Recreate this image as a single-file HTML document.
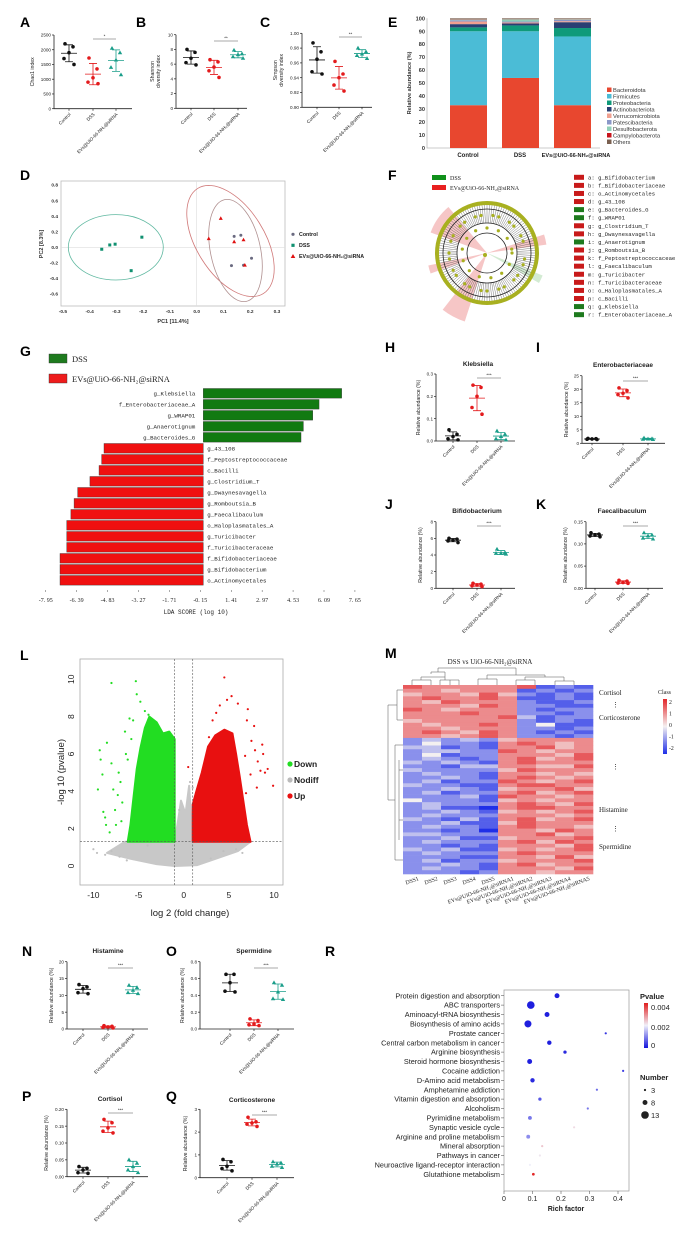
<!DOCTYPE html>
<html><head><meta charset="utf-8"><style>
html,body{margin:0;padding:0;background:#fff;}
svg{display:block;font-family:"Liberation Sans",sans-serif;}
.pl{font-weight:bold;font-size:14px;}
.mono{font-family:"Liberation Mono",monospace;}
.serif{font-family:"Liberation Serif",serif;}
</style></head><body>
<svg id="fig" width="700" height="1233" viewBox="0 0 700 1233" xmlns="http://www.w3.org/2000/svg">
<text class="pl" x="20" y="27">A</text>
<text class="pl" x="136" y="27">B</text>
<text class="pl" x="260" y="27">C</text>
<text class="pl" x="388" y="27">E</text>
<text class="pl" x="20" y="180">D</text>
<text class="pl" x="388" y="180">F</text>
<text class="pl" x="20" y="356">G</text>
<text class="pl" x="385" y="352">H</text>
<text class="pl" x="536" y="352">I</text>
<text class="pl" x="385" y="509">J</text>
<text class="pl" x="536" y="509">K</text>
<text class="pl" x="20" y="660">L</text>
<text class="pl" x="385" y="658">M</text>
<text class="pl" x="22" y="956">N</text>
<text class="pl" x="166" y="956">O</text>
<text class="pl" x="22" y="1101">P</text>
<text class="pl" x="166" y="1101">Q</text>
<text class="pl" x="325" y="956">R</text>
</svg>
<script>
// ===== DATA =====
const groups = ["Control","DSS","EVs@UiO-66-NH\u2082@siRNA"];
const chaoC=[2200,2100,1900,1700,1500], chaoD=[1720,1350,1050,900,850], chaoE=[2050,1900,1650,1400,1150];
const shanC=[8.0,7.6,6.8,6.2,5.9], shanD=[6.6,6.3,5.6,5.1,4.2], shanE=[7.9,7.4,7.3,7.0,6.8];
const simpC=[0.987,0.975,0.965,0.948,0.945], simpD=[0.962,0.945,0.94,0.93,0.922], simpE=[0.98,0.975,0.972,0.97,0.966];
const klebC=[0.05,0.03,0.02,0.01,0.005], klebD=[0.25,0.24,0.2,0.15,0.12], klebE=[0.045,0.03,0.02,0.01,0.005];
const enteC=[1.8,1.7,1.6,1.5,1.4], enteD=[20.5,19.5,18.5,18,16.8], enteE=[2.0,1.7,1.6,1.5,1.4];
const bifiC=[6.0,5.9,5.8,5.7,5.5], bifiD=[0.6,0.5,0.4,0.3,0.2], bifiE=[4.7,4.3,4.2,4.2,4.1];
const faecC=[0.125,0.122,0.12,0.118,0.116], faecD=[0.018,0.016,0.013,0.012,0.011], faecE=[0.125,0.12,0.118,0.113,0.111];
const histC=[13.2,12.5,12,10.8,10.5], histD=[1.0,0.8,0.6,0.5,0.3], histE=[13,12.3,11.5,10.8,10.5];
const sperC=[0.65,0.65,0.55,0.45,0.44], sperD=[0.12,0.1,0.06,0.05,0.04], sperE=[0.55,0.52,0.44,0.36,0.35];
const cortC=[0.03,0.025,0.02,0.012,0.01], cortD=[0.17,0.16,0.145,0.135,0.13], cortE=[0.05,0.04,0.03,0.02,0.012];
const cosC=[0.8,0.7,0.5,0.4,0.3], cosD=[2.65,2.45,2.4,2.35,2.25], cosE=[0.7,0.65,0.6,0.5,0.45];

const phyla=["Bacteroidota","Firmicutes","Proteobacteria","Actinobacteriota","Verrucomicrobiota","Patescibacteria","Desulfobacterota","Campylobacterota","Others"];
const stackControl=[33,57,3,2.5,2,1,0.7,0.3,0.5];
const stackDSS=[54,36,4.5,1.5,0.8,0.7,1.8,0.2,0.5];
const stackEVs=[33,53,6.5,4.5,0.8,1,0.5,0.2,0.5];
const stackTicks=[0,10,20,30,40,50,60,70,80,90,100];

const pcaCtrlX=[0.14,0.165,0.205,0.13,0.175], pcaCtrlY=[0.14,0.155,-0.14,-0.235,-0.23];
const pcaDssX=[-0.355,-0.325,-0.305,-0.205,-0.245], pcaDssY=[-0.025,0.03,0.04,0.13,-0.3];
const pcaEvX=[0.09,0.045,0.14,0.175,0.18], pcaEvY=[0.37,0.11,0.07,0.095,-0.23];
const pcaXTicks=[-0.5,-0.4,-0.3,-0.2,-0.1,0.0,0.1,0.2,0.3];
const pcaYTicks=[0.8,0.6,0.4,0.2,0.0,-0.2,-0.4,-0.6];

const ldaNames=["g_Klebsiella","f_Enterobacteriaceae_A","g_WRAP01","g_Anaerotignum","g_Bacteroides_G","g_43_108","f_Peptostreptococcaceae","c_Bacilli","g_Clostridium_T","g_Dwaynesavagella","g_Romboutsia_B","g_Faecalibaculum","o_Haloplasmatales_A","g_Turicibacter","f_Turicibacteraceae","f_Bifidobacteriaceae","g_Bifidobacterium","o_Actinomycetales"];
const ldaScores=[6.98,5.84,5.52,5.05,4.93,-5.01,-5.13,-5.26,-5.72,-6.34,-6.52,-6.68,-6.89,-6.89,-6.89,-7.23,-7.23,-7.23];
const ldaTicks=[-7.95,-6.39,-4.83,-3.27,-1.71,-0.15,1.41,2.97,4.53,6.09,7.65];

const cladeLetters=["a","b","c","d","e","f","g","h","i","j","k","l","m","n","o","p","q","r"];
const cladeNames=["g_Bifidobacterium","f_Bifidobacteriaceae","o_Actinomycetales","g_43_108","g_Bacteroides_G","g_WRAP01","g_Clostridium_T","g_Dwaynesavagella","g_Anaerotignum","g_Romboutsia_B","f_Peptostreptococcaceae","g_Faecalibaculum","g_Turicibacter","f_Turicibacteraceae","o_Haloplasmatales_A","c_Bacilli","g_Klebsiella","f_Enterobacteriaceae_A"];
const cladeGroup=["E","E","E","E","D","D","E","E","D","E","E","E","E","E","E","E","D","D"];

const volGreenX=[-8,-5.3,-5.2,-4.8,-4.3,-3.9,-6,-6.5,-8.5,-9.3,-9.2,-9.5,-8.9,-8.7,-7.8,-7.2,-7,-6.8,-7.5,-8.2,-6.2,-5.8,-9,-8,-7.6,-6.9,-5.6,-6.4,-7.3,-8.6];
const volGreenY=[9.8,9.9,9.2,8.8,8.3,8.1,7.9,7.2,6.6,6.2,5.7,4.1,2.9,2.6,4.1,5,4.5,3.4,2.2,1.8,5.7,6.8,4.9,5.5,3,2.4,7.8,6,3.8,2.2];
const volRedX=[4.5,5.3,4.8,6,7.1,7,7.8,8.7,9.3,9.9,8.1,8.2,7.5,6.8,6.6,5.8,4,3.6,3.2,7.4,6.2,5.1,8.5,9,6.5,2.8,7.9,8.8,0.5,6.9];
const volRedY=[10.1,9.1,8.9,8.7,8.4,7.8,7.5,6.5,5.2,4.3,4.2,5.6,6.7,5.9,3.4,2.9,8.6,8.2,7.8,4.9,1.7,1.8,5.1,5,2.7,6.9,6.2,6,5.3,3.9];
const volGreyX=[-10,-9.6,-8.7,-8,-7.1,-6.3,6.5,5.8,4.4,-4,3,0.7,1,-0.5];
const volGreyY=[0.9,0.7,0.6,0.8,0.5,0.3,0.7,0.9,0.8,1.1,0.4,4.5,4.2,3.0];
const volGreenCore=[[-1,1.3],[-1,6.8],[-1.6,7.2],[-2.3,7.1],[-3,7.7],[-3.8,8.0],[-4.3,7.4],[-4.8,6.3],[-5.2,5.2],[-5.6,3.5],[-5.9,2.2],[-6.2,1.3]];
const volRedCore=[[1,1.3],[1,3.3],[1.4,4.0],[2,5.0],[2.7,6.4],[3.5,7.0],[4.5,7.3],[5.4,7.1],[5.8,6.0],[6.2,4.8],[6.6,3.5],[7.0,2.2],[7.4,1.3]];
const volGreyCore=[[-6.5,1.3],[-1,1.3],[-0.6,2.5],[-0.3,3.5],[0.2,2.8],[0.6,4.3],[1,1.3],[7.4,1.3],[6,0.8],[3,0.3],[1.5,0.05],[-1,0],[-3,0.1],[-6,0.4],[-8.5,0.7]];
const volXTicks=[-10,-5,0,5,10];
const volYTicks=[0,2,4,6,8,10];

const heatCols=["DSS1","DSS2","DSS3","DSS4","DSS5","EVs@UiO-66-NH\u2082@siRNA1","EVs@UiO-66-NH\u2082@siRNA2","EVs@UiO-66-NH\u2082@siRNA3","EVs@UiO-66-NH\u2082@siRNA4","EVs@UiO-66-NH\u2082@siRNA5"];
const heatRows=["7666667121","6656661212","5665752121","6766761121","6576662112","6665762211","7656662122","6667662212","6666673122","5666662121","6566762411","6656662212","6765762121","6656762212",
"2323256666","2422167656","3312166756","2332276566","2412266657","2321267567","3232167666","2213366557","3222257666","2322166565","2232167656","2312276567","3221167766","2232156675","2312267567","2223176656","4222156566","2322267657","2311067766","2232156567","2322266656","3213167567","2231157666","2322167665","2212066576","3322266756","2231156667","2322267576","2212166657","3231156567","2322267666","2221166575","2312256667","2232167566","2322166657","2221266566"];

const keggNames=["Protein digestion and absorption","ABC transporters","Aminoacyl-tRNA biosynthesis","Biosynthesis of amino acids","Prostate cancer","Central carbon metabolism in cancer","Arginine biosynthesis","Steroid hormone biosynthesis","Cocaine addiction","D-Amino acid metabolism","Amphetamine addiction","Vitamin digestion and absorption","Alcoholism","Pyrimidine metabolism","Synaptic vesicle cycle","Arginine and proline metabolism","Mineral absorption","Pathways in cancer","Neuroactive ligand-receptor interaction","Glutathione metabolism"];
const keggRich=[0.186,0.094,0.151,0.084,0.357,0.159,0.214,0.09,0.418,0.1,0.326,0.126,0.294,0.091,0.246,0.085,0.134,0.126,0.091,0.103];
const keggNumber=[8,13,8,12,3,7,5,8,3,7,3,5,3,6,3,6,3,3,3,4];
const keggP=[0.0001,0.0001,0.0001,0.0001,0.0003,0.0001,0.0002,0.0001,0.0004,0.0002,0.0008,0.0006,0.0009,0.0009,0.0022,0.0011,0.0024,0.0021,0.002,0.0039];
const keggTicks=[0,0.1,0.2,0.3,0.4];

// ===== HELPERS =====
const NS="http://www.w3.org/2000/svg";
const svg=document.getElementById('fig');
function mk(tag,a,parent){const e=document.createElementNS(NS,tag);for(const k in a)e.setAttribute(k,a[k]);(parent||svg).appendChild(e);return e;}
function tx(x,y,s,a,parent){const e=mk('text',Object.assign({x:x,y:y},a||{}),parent);e.textContent=s;return e;}
function grp(name){const g=mk('g',{});return g;}
function mean(a){return a.reduce((s,v)=>s+v,0)/a.length;}
function sd(a){const m=mean(a);return Math.sqrt(a.reduce((s,v)=>s+(v-m)*(v-m),0)/(a.length-1));}
const GC=["#111","#e31a1c","#1a9e8a"];
const offs=[-4,4,0,-5,5];

function dotPanel(p){
  const g=grp(p.name);
  const ys=v=>p.yB-(v-p.vB)/(p.vT-p.vB)*(p.yB-p.yT);
  const ax=mk('path',{d:`M${p.x0},${p.yT} L${p.x0},${p.yB} L${p.x1},${p.yB}`,stroke:'#222','stroke-width':0.8,fill:'none'},g);
  
  
  p.ticks.forEach(t=>{
    const y=ys(t);
    const l=mk('line',{x1:p.x0-2,x2:p.x0,y1:y,y2:y,stroke:'#222','stroke-width':0.7},g);
    
    
    const lb=tx(p.x0-3,y+1.6,p.fmt(t),{'font-size':4.6,'text-anchor':'end',fill:'#222'},g);
    
    
  });
  const yl=tx(0,0,p.ylab,{'font-size':5.2,'text-anchor':'middle',fill:'#222',transform:`translate(${p.x0-p.ylOff},${(p.yT+p.yB)/2}) rotate(-90)`},g);
  
  
  if(p.ylab2){const y2=tx(0,0,p.ylab2,{'font-size':5.2,'text-anchor':'middle',fill:'#222',transform:`translate(${p.x0-p.ylOff+6},${(p.yT+p.yB)/2}) rotate(-90)`},g);
    
    }
  if(p.title){const t=tx(p.tx,p.ty,p.title,{'font-size':6.5,'font-weight':'bold','text-anchor':'middle',fill:'#222'},g);
    
    }
  p.data.forEach((arr,gi)=>{
    const cx=p.cats[gi];
    const tk=mk('line',{x1:cx,x2:cx,y1:p.yB,y2:p.yB+2,stroke:'#222','stroke-width':0.7},g);
    
    
    const cl=tx(0,0,groups[gi],{'font-size':4.6,'text-anchor':'end',fill:'#222',transform:`translate(${cx+2},${p.yB+6}) rotate(-45)`},g);
    
    
    const m=mean(arr),s=sd(arr);
    const eb=mk('path',{d:`M${cx-8},${ys(m)} L${cx+8},${ys(m)} M${cx},${ys(m+s)} L${cx},${ys(m-s)} M${cx-4},${ys(m+s)} L${cx+4},${ys(m+s)} M${cx-4},${ys(m-s)} L${cx+4},${ys(m-s)}`,stroke:GC[gi],'stroke-width':0.8,fill:'none'},g);
    
    
    arr.forEach((v,i)=>{
      const x=cx+offs[i],y=ys(v);let e;
      if(gi==2){e=mk('path',{d:`M${x},${y-2.3} L${x+2.2},${y+1.5} L${x-2.2},${y+1.5}Z`,fill:GC[gi]},g);}
      else{e=mk('circle',{cx:x,cy:y,r:1.8,fill:GC[gi]},g);}
      
      
    });
  });
  const sy=p.sigY;
  const sl=mk('line',{x1:p.cats[1],x2:p.cats[2],y1:sy,y2:sy,stroke:'#555','stroke-width':0.6},g);
  
  
  const st=tx((p.cats[1]+p.cats[2])/2,sy-1.5,p.stars,{'font-size':4.5,'text-anchor':'middle',fill:'#333'},g);
  
  
}
const f0=v=>String(v), f2=v=>v.toFixed(2), f1=v=>v.toFixed(1);
dotPanel({name:'chao1-panel',x0:54,x1:132,yT:35,yB:108.7,vT:2500,vB:0,ticks:[0,500,1000,1500,2000,2500],fmt:f0,cats:[69,93,116],data:[chaoC,chaoD,chaoE],ylab:'Chao1 index',ylOff:20,sigY:39,stars:'*'});
dotPanel({name:'shannon-panel',x0:176,x1:247,yT:34.7,yB:108.3,vT:10,vB:0,ticks:[0,2,4,6,8,10],fmt:f0,cats:[191,214,238],data:[shanC,shanD,shanE],ylab:'Shannon',ylab2:'diversity index',ylOff:22,sigY:41,stars:'**'});
dotPanel({name:'simpson-panel',x0:302,x1:372,yT:33.3,yB:107.3,vT:1.0,vB:0.9,ticks:[0.9,0.92,0.94,0.96,0.98,1.0],fmt:f2,cats:[317,339,362],data:[simpC,simpD,simpE],ylab:'Simpson',ylab2:'diversity index',ylOff:25,sigY:37,stars:'**'});
dotPanel({name:'klebsiella-panel',x0:436,x1:515,yT:374,yB:441,vT:0.3,vB:0,ticks:[0,0.1,0.2,0.3],fmt:f1,cats:[453,477,501],data:[klebC,klebD,klebE],ylab:'Relative abundance (%)',ylOff:16,title:'Klebsiella',tx:478,ty:366,sigY:378,stars:'***'});
dotPanel({name:'enterobacteriaceae-panel',x0:582,x1:665,yT:375.7,yB:443.3,vT:25,vB:0,ticks:[0,5,10,15,20,25],fmt:f0,cats:[592,623,648],data:[enteC,enteD,enteE],ylab:'Relative abundance (%)',ylOff:14,title:'Enterobacteriaceae',tx:623,ty:367,sigY:381,stars:'***'});
dotPanel({name:'bifidobacterium-panel',x0:436,x1:515,yT:521.7,yB:588.3,vT:8,vB:0,ticks:[0,2,4,6,8],fmt:f0,cats:[453,477,501],data:[bifiC,bifiD,bifiE],ylab:'Relative abundance (%)',ylOff:14,title:'Bifidobacterium',tx:477,ty:513,sigY:526,stars:'***'});
dotPanel({name:'faecalibaculum-panel',x0:586,x1:663,yT:521.7,yB:588.3,vT:0.15,vB:0,ticks:[0,0.05,0.1,0.15],fmt:f2,cats:[595,623,648],data:[faecC,faecD,faecE],ylab:'Relative abundance (%)',ylOff:19,title:'Faecalibaculum',tx:622,ty:513,sigY:526,stars:'***'});
dotPanel({name:'histamine-panel',x0:67,x1:148,yT:961.7,yB:1029,vT:20,vB:0,ticks:[0,5,10,15,20],fmt:f0,cats:[83,108,133],data:[histC,histD,histE],ylab:'Relative abundance (%)',ylOff:14,title:'Histamine',tx:108,ty:953,sigY:968,stars:'***'});
dotPanel({name:'spermidine-panel',x0:200,x1:294,yT:961.7,yB:1029,vT:0.8,vB:0,ticks:[0,0.2,0.4,0.6,0.8],fmt:f1,cats:[230,254,278],data:[sperC,sperD,sperE],ylab:'Relative abundance (%)',ylOff:16,title:'Spermidine',tx:254,ty:953,sigY:968,stars:'***'});
dotPanel({name:'cortisol-panel',x0:67,x1:148,yT:1109.3,yB:1176.7,vT:0.2,vB:0,ticks:[0,0.05,0.1,0.15,0.2],fmt:f2,cats:[83,108,133],data:[cortC,cortD,cortE],ylab:'Relative abundance (%)',ylOff:19,title:'Cortisol',tx:110,ty:1101,sigY:1113,stars:'***'});
dotPanel({name:'corticosterone-panel',x0:200,x1:294,yT:1109.3,yB:1177.7,vT:3,vB:0,ticks:[0,1,2,3],fmt:f0,cats:[227,252,277],data:[cosC,cosD,cosE],ylab:'Relative abundance (%)',ylOff:13,title:'Corticosterone',tx:252,ty:1102,sigY:1115,stars:'***'});

// ===== E stacked bar =====
(function(){
  const g=grp('stacked-bar-chart');
  const colors=["#e8472f","#4bbcd6","#0f9a7a","#2a3f73","#f0a090","#8a97c8","#90d0b8","#c8141c","#7a6050"];
  const x0=427,yT=18.3,yB=148;
  const ys=v=>yB-v/100*(yB-yT);
  const a=mk('path',{d:`M${x0},${yT} L${x0},${yB} L600,${yB}`,stroke:'#bbb','stroke-width':0.8,fill:'none'},g);
  
  
  stackTicks.forEach(t=>{
    const l=tx(x0-2,ys(t)+2,String(t),{'font-size':5.6,'font-weight':'bold','text-anchor':'end',fill:'#333'},g);
    
    
  });
  const yl=tx(0,0,'Relative abundance (%)',{'font-size':5.6,'font-weight':'bold','text-anchor':'middle',fill:'#333',transform:`translate(411,83) rotate(-90)`},g);
  
  
  const stacks=[stackControl,stackDSS,stackEVs];const bx=[450,502,554];const lbx=[468,520,576];
  stacks.forEach((st,bi)=>{
    let acc=0;
    st.forEach((v,ci)=>{
      const r=mk('rect',{x:bx[bi],y:ys(acc+v),width:37,height:ys(acc)-ys(acc+v),fill:colors[ci]},g);
      
      
      acc+=v;
    });
    const l=tx(lbx[bi],157,groups[bi],{'font-size':bi==2?5.6:6,'font-weight':'bold','text-anchor':'middle',fill:'#222'},g);
    
    
  });
  phyla.forEach((n,i)=>{
    const y=90+i*6.5;
    const s=mk('rect',{x:607,y:y-2.5,width:4.5,height:4.5,fill:colors[i]},g);
    
    
    const t=tx(613,y+2,n,{'font-size':5.8,fill:'#333'},g);
    
    
  });
})();

// ===== D PCA =====
(function(){
  const g=grp('pca-plot');
  const xs=v=>196.7+v*267.5, ys=v=>247.3-v*77.9;
  const b=mk('rect',{x:61,y:181,width:224,height:125,fill:'none',stroke:'#bbb','stroke-width':0.8},g);
  
  
  const h=mk('path',{d:`M61,${ys(0)} L285,${ys(0)} M${xs(0)},181 L${xs(0)},306`,stroke:'#ddd','stroke-width':0.6},g);
  
  
  pcaXTicks.forEach(t=>{const l=tx(xs(t),313,t.toFixed(1),{'font-size':4.8,'font-weight':'bold','text-anchor':'middle',fill:'#333'},g);
    
    });
  pcaYTicks.forEach(t=>{const l=tx(58,ys(t)+1.7,t.toFixed(1),{'font-size':4.8,'font-weight':'bold','text-anchor':'end',fill:'#333'},g);
    
    });
  const xl=tx(173,323,'PC1 [11.4%]',{'font-size':5.5,'font-weight':'bold','text-anchor':'middle',fill:'#333'},g);
  
  
  const yl=tx(0,0,'PC2 [8.3%]',{'font-size':5.5,'font-weight':'bold','text-anchor':'middle',fill:'#333',transform:'translate(43,244) rotate(-90)'},g);
  
  
  const e1=mk('ellipse',{cx:115.8,cy:247.3,rx:47.5,ry:32.7,fill:'none',stroke:'#5fb8a0','stroke-width':0.8},g);
  
  
  const e2=mk('ellipse',{cx:230.5,cy:241,rx:62,ry:34,fill:'none',stroke:'#d07878','stroke-width':0.8,transform:'rotate(58 230.5 241)'},g);
  
  
  const e3=mk('ellipse',{cx:235.5,cy:250.5,rx:52,ry:25,fill:'none',stroke:'#b09090','stroke-width':0.8,transform:'rotate(78 235.5 250.5)'},g);
  
  
  pcaCtrlX.forEach((v,i)=>{const c=mk('circle',{cx:xs(v),cy:ys(pcaCtrlY[i]),r:1.5,fill:'#6a6a80'},g);
    
    });
  pcaDssX.forEach((v,i)=>{const c=mk('rect',{x:xs(v)-1.5,y:ys(pcaDssY[i])-1.5,width:3,height:3,fill:'#109070'},g);
    
    });
  pcaEvX.forEach((v,i)=>{const x=xs(v),y=ys(pcaEvY[i]);const c=mk('path',{d:`M${x},${y-2.2} L${x+2},${y+1.4} L${x-2},${y+1.4}Z`,fill:'#e01010'},g);
    
    });
  const lg=[['Control','#6a6a80','c'],['DSS','#109070','s'],['EVs@UiO-66-NH\u2082@siRNA','#e01010','t']];
  lg.forEach((l,i)=>{const y=236+i*11;let m;
    if(l[2]=='c')m=mk('circle',{cx:293,cy:y-1.7,r:1.6,fill:l[1]},g);
    else if(l[2]=='s')m=mk('rect',{x:291.4,y:y-3.3,width:3.2,height:3.2,fill:l[1]},g);
    else m=mk('path',{d:`M293,${y-4} L295.3,${y} L290.7,${y}Z`,fill:l[1]},g);
    
    
    const t=tx(299,y,l[0],{'font-size':5.3,'font-weight':'bold',fill:'#222'},g);
    
    });
})();

// ===== F cladogram =====
(function(){
  const g=grp('cladogram');
  const cx=487,cy=253;
  const wedges=[[200,230,'#f4b8b8'],[108,128,'#f4b8b8'],[-18,-8,'#f4b8b8'],[22,30,'#c8e6c8'],[160,168,'#f4b8b8']];
  wedges.forEach(w=>{const a1=w[0]*Math.PI/180,a2=w[1]*Math.PI/180,R=(w[0]>100&&w[0]<140)?72:60;
    const p=mk('path',{d:`M${cx},${cy} L${cx+R*Math.cos(a1)},${cy+R*Math.sin(a1)} A${R},${R} 0 0 1 ${cx+R*Math.cos(a2)},${cy+R*Math.sin(a2)} Z`,fill:w[2],opacity:0.8},g);
    
    });
  for(let i=0;i<120;i++){const a=i/120*2*Math.PI;
    const l=mk('line',{x1:cx+30*Math.cos(a),y1:cy+30*Math.sin(a),x2:cx+50*Math.cos(a),y2:cy+50*Math.sin(a),stroke:'#444','stroke-width':0.35},g);
    
    }
  [50,44,30,20].forEach((r,i)=>{const c=mk('circle',{cx:cx,cy:cy,r:r,fill:'none',stroke:i==0?'#a8b020':'#222','stroke-width':i==0?4:0.8},g);
    
    });
  for(let i=0;i<40;i++){const a=i/40*2*Math.PI,r=(i%3==0)?25:38;
    const d=mk('circle',{cx:cx+r*Math.cos(a),cy:cy+r*Math.sin(a),r:1.6,fill:'#a8b020'},g);
    
    }
  const c0=mk('circle',{cx:cx-2,cy:cy+2,r:2,fill:'#a8b020'},g);
  
  
  [[432,178,'#10901a','DSS'],[432,188,'#e82020','EVs@UiO-66-NH\u2082@siRNA']].forEach(l=>{
    const r=mk('rect',{x:l[0],y:l[1]-3,width:14,height:5,fill:l[2]},g);
    
    
    const t=tx(450,l[1]+2,l[3],{'font-size':6,fill:'#222',class:'serif'},g);
    
    });
  cladeLetters.forEach((L,i)=>{const y=177.3+i*8.08;
    const r=mk('rect',{x:574,y:y-2.5,width:10,height:5,fill:cladeGroup[i]=='D'?'#1e7a1e':'#c81a1a'},g);
    
    
    const t=tx(588,y+2,L+': '+cladeNames[i],{'font-size':5.6,fill:'#222',class:'mono'},g);
    
    });
})();

// ===== G LDA =====
(function(){
  const g=grp('lda-bar-chart');
  const xs=v=>203.3+v*19.82;
  [[354,'#1e7a1e','DSS'],[374,'#ee1c1c','EVs@UiO-66-NH\u2082@siRNA']].forEach(l=>{
    const r=mk('rect',{x:49,y:l[0],width:18,height:9,fill:l[1],stroke:'#333','stroke-width':0.4},g);
    
    
    const t=tx(72,l[0]+8,l[2],{'font-size':8.5,fill:'#222',class:'serif'},g);
    
    });
  ldaScores.forEach((v,i)=>{
    const y=393.3+i*11;const pos=v>0;
    const r=mk('rect',{x:pos?xs(0):xs(v),y:y-4.8,width:Math.abs(xs(v)-xs(0)),height:9.6,fill:pos?'#117a11':'#f01010',stroke:'#333','stroke-width':0.4},g);
    
    
    const t=tx(pos?xs(0)-8:xs(0)+4,y+2,ldaNames[i],{'font-size':5.8,'text-anchor':pos?'end':'start',fill:'#222',class:'mono'},g);
    
    
  });
  ldaTicks.forEach(t=>{
    const l=mk('line',{x1:xs(t),x2:xs(t),y1:590,y2:592,stroke:'#555','stroke-width':0.5},g);
    
    
    const lb=tx(xs(t),602,t.toFixed(2).replace('.','. '),{'font-size':6,'text-anchor':'middle',fill:'#222',class:'serif'},g);
    
    });
  const xl=tx(196,614,'LDA SCORE (log 10)',{'font-size':6,'text-anchor':'middle',fill:'#222',class:'mono'},g);
  
  
})();

// ===== L volcano =====
(function(){
  const g=grp('volcano-plot');
  const xs=v=>183.7+v*9.03, ys=v=>866-v*18.67;
  const fr=mk('rect',{x:80,y:659,width:203,height:226,fill:'#fff',stroke:'#aaa','stroke-width':0.8},g);
  
  
  function poly(pts,col,name){const p=mk('polygon',{points:pts.map(q=>xs(q[0])+','+ys(q[1])).join(' '),fill:col,stroke:col,'stroke-width':2,'stroke-linejoin':'round'},g);
    
    }
  poly(volGreyCore,'#c8c8c8','nodiff-density');
  poly(volGreenCore,'#22dd22','down-density');
  poly(volRedCore,'#e81010','up-density');
  function pts(X,Y,col,name){X.forEach((v,i)=>{const c=mk('circle',{cx:xs(v),cy:ys(Y[i]),r:1.1,fill:col},g);
    
    });}
  pts(volGreyX,volGreyY,'#c0c0c0','nodiff-point');
  pts(volGreenX,volGreenY,'#22dd22','down-point');
  pts(volRedX,volRedY,'#e81010','up-point');
  const dl=mk('path',{d:`M${xs(-1)},659 L${xs(-1)},885 M${xs(1)},659 L${xs(1)},885 M80,${ys(1.3)} L283,${ys(1.3)}`,stroke:'#555','stroke-width':0.6,'stroke-dasharray':'2,1.5',fill:'none'},g);
  
  
  volXTicks.forEach(t=>{const l=tx(xs(t),898,String(t),{'font-size':8.5,'text-anchor':'middle',fill:'#222'},g);
    
    });
  volYTicks.forEach(t=>{const l=tx(0,0,String(t),{'font-size':8.5,'text-anchor':'middle',fill:'#222',transform:`translate(74,${ys(t)}) rotate(-90)`},g);
    
    });
  const xl=tx(190,916,'log 2 (fold change)',{'font-size':9.5,'text-anchor':'middle',fill:'#222'},g);
  
  
  const yl=tx(0,0,'-log 10 (pvalue)',{'font-size':9.5,'text-anchor':'middle',fill:'#222',transform:'translate(64,772) rotate(-90)'},g);
  
  
  [['Down','#22dd22',767],['Nodiff','#bbbbbb',783],['Up','#e81010',799]].forEach(l=>{
    const c=mk('circle',{cx:290,cy:l[2]-3,r:2.6,fill:l[1]},g);
    
    
    const t=tx(294,l[2],l[0],{'font-size':8.5,'font-weight':'bold',fill:'#222'},g);
    
    });
})();

// ===== M heatmap =====
(function(){
  const g=grp('heatmap');
  const x0=403,y0=685,cw=19,rh=(874-685)/heatRows.length;
  function col(v){const t=Math.abs(v)/2;const lo=[244,240,240];const hi=v>=0?[227,38,42]:[31,47,232];
    const c=lo.map((l,i)=>Math.round(l+(hi[i]-l)*t));return `rgb(${c[0]},${c[1]},${c[2]})`;}
  heatRows.forEach((row,ri)=>{
    for(let ci=0;ci<row.length;ci++){const v=(parseInt(row[ci])-4)/2;
      const r=mk('rect',{x:x0+ci*cw,y:y0+ri*rh,width:cw+0.3,height:rh+0.3,fill:col(v)},g);
      
      }
  });
  const dt=mk('path',{d:'M412,685 L412,680 L431,680 L431,685 M421,680 L421,677 L445,677 L445,680 M440,685 L440,680 L450,680 L450,685 M459,685 L459,680 L450,680 M445,677 L445,674 M431,674 L431,672 L445,672 L445,674 M478,685 L478,679 L497,679 L497,685 M516,685 L516,680 L535,680 L535,685 M555,685 L555,681 L574,681 L574,685 M564,681 L564,677 L525,677 L525,680 M487,679 L487,675 L545,675 L545,677 M516,675 L516,668 M438,672 L438,668 L516,668',stroke:'#555','stroke-width':0.5,fill:'none'},g);
  
  
  const dl=mk('path',{d:'M403,690 L397,690 L397,720 L403,720 M397,705 L392,705 M403,745 L395,745 L395,860 L403,860 M395,800 L388,800 L388,705 L392,705 M399,760 L399,840 M403,770 L399,770 M403,820 L399,820',stroke:'#555','stroke-width':0.5,fill:'none'},g);
  
  
  const t=tx(490,664,'DSS vs UiO-66-NH\u2082@siRNA',{'font-size':7,'text-anchor':'middle',fill:'#222',class:'serif'},g);
  
  
  heatCols.forEach((c,i)=>{const l=tx(0,0,c,{'font-size':5.8,'text-anchor':'end',fill:'#222',class:'serif',transform:`translate(${x0+i*cw+16},${880}) rotate(-20)`},g);
    
    });
  [['Cortisol',695],['\u22ee',707],['Corticosterone',720],['\u22ee',769],['Histamine',812],['\u22ee',831],['Spermidine',849]].forEach(r=>{
    const l=tx(r[0]=='\u22ee'?612:599,r[1],r[0],{'font-size':7,fill:'#222',class:'serif'},g);
    
    });
  const defs=mk('defs',{},g);
  const lgd=mk('linearGradient',{id:'classgrad',x1:0,y1:0,x2:0,y2:1},defs);
  [['0','#e3262a'],['0.5','#f4f0f0'],['1','#1f2fe8']].forEach(s=>mk('stop',{offset:s[0],'stop-color':s[1]},lgd));
  const cb=mk('rect',{x:663,y:699,width:4,height:55,fill:'url(#classgrad)'},g);
  
  
  const ct=tx(658,694,'Class',{'font-size':6,fill:'#222',class:'serif'},g);
  
  
  ['2','1','0','-1','-2'].forEach((s,i)=>{const l=tx(669,704+i*11.5,s,{'font-size':5.8,fill:'#222',class:'serif'},g);
    
    });
})();

// ===== R KEGG bubble =====
(function(){
  const g=grp('kegg-bubble-chart');
  const xs=v=>504+v*285;
  const fr=mk('rect',{x:504,y:990,width:125,height:201,fill:'none',stroke:'#999','stroke-width':0.7},g);
  
  
  function pc(p){const t=Math.min(p/0.004,1);let a,b,u;
    if(t<0.5){u=t/0.5;a=[20,20,220];b=[240,240,250];}else{u=(t-0.5)/0.5;a=[240,240,250];b=[225,30,30];}
    const c=a.map((x,i)=>Math.round(x+(b[i]-x)*u));return `rgb(${c})`;}
  keggNames.forEach((n,i)=>{const y=995.7+i*9.4;
    const tk=mk('line',{x1:501,x2:504,y1:y,y2:y,stroke:'#444','stroke-width':0.5},g);
    
    
    const l=tx(500,y+2.6,n,{'font-size':7.3,'text-anchor':'end',fill:'#222'},g);
    
    
    const c=mk('circle',{cx:xs(keggRich[i]),cy:y,r:0.27*keggNumber[i]+0.3,fill:pc(keggP[i])},g);
    
    });
  keggTicks.forEach(t=>{const tk=mk('line',{x1:xs(t),x2:xs(t),y1:1191,y2:1194,stroke:'#444','stroke-width':0.5},g);
    
    
    const l=tx(xs(t),1201,String(t),{'font-size':7,'text-anchor':'middle',fill:'#222'},g);
    
    });
  const xl=tx(566,1211,'Rich factor',{'font-size':7,'font-weight':'bold','text-anchor':'middle',fill:'#222'},g);
  
  
  const defs=mk('defs',{},g);
  const lgd=mk('linearGradient',{id:'pgrad',x1:0,y1:0,x2:0,y2:1},defs);
  [['0','#e01e1e'],['0.5','#f0f0fa'],['1','#1414dc']].forEach(s=>mk('stop',{offset:s[0],'stop-color':s[1]},lgd));
  const pt=tx(640,999,'Pvalue',{'font-size':7.5,'font-weight':'bold',fill:'#222'},g);
  
  
  const cb=mk('rect',{x:644,y:1003,width:4,height:45,fill:'url(#pgrad)'},g);
  
  
  [['0.004',1010],['0.002',1030],['0',1048]].forEach(l=>{const t=tx(651,l[1],l[0],{'font-size':7.5,fill:'#222'},g);
    
    });
  const nt=tx(640,1080,'Number',{'font-size':7.5,'font-weight':'bold',fill:'#222'},g);
  
  
  [3,8,13].forEach((n,i)=>{const y=1090+i*12.5;
    const c=mk('circle',{cx:645,cy:y,r:0.27*n+0.3,fill:'#222'},g);
    
    
    const t=tx(651,y+3,String(n),{'font-size':7.5,fill:'#222'},g);
    
    });
})();
</script>
</body></html>
